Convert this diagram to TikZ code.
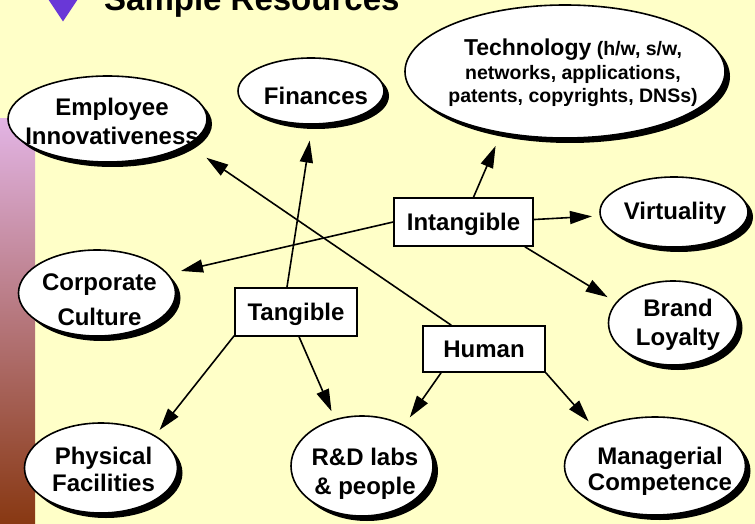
\documentclass[tikz,border=0pt]{standalone}
\usepackage{fontspec}
\setmainfont{Liberation Sans}
\usetikzlibrary{shapes.geometric,shadows,arrows.meta}
\definecolor{paper}{RGB}{255,255,200}
\definecolor{stripTop}{RGB}{226,180,228}
\definecolor{stripBot}{RGB}{136,56,18}
\definecolor{bulletPurple}{RGB}{105,55,215}

\begin{document}
\begin{tikzpicture}[x=1pt,y=-1pt,
  bubble/.style={ellipse, draw=black, line width=1.6pt, fill=white, inner sep=0pt,
    drop shadow={shadow xshift=5pt, shadow yshift=-5pt, fill=black, opacity=1}},
  lbl/.style={align=center, inner sep=0pt, font=\bfseries\fontsize{24}{29}\selectfont},
  box/.style={rectangle, draw=black, line width=1.6pt, fill=white, inner sep=0pt,
    font=\bfseries\fontsize{24}{29}\selectfont, text height=17pt, text depth=0pt},
  conn/.style={line width=1.6pt, -{Triangle[length=22pt,width=13pt]}}]

% page and clipping
\useasboundingbox (0,0) rectangle (755,524);
\clip (0,0) rectangle (755,524);
\fill[paper] (0,0) rectangle (755,524);

% shaded strip on the left edge
\shade[top color=stripTop, bottom color=stripBot] (0,119) rectangle (35,524);

% heading with bullet
\fill[bulletPurple] (46,-4) -- (80,-4) -- (63,21.5) -- cycle;
\node[font=\bfseries\fontsize{33}{40}\selectfont, anchor=base west, inner sep=0pt] (title) at (104,11) {Sample Resources};

% resource bubbles
\node[bubble, minimum width=199pt, minimum height=86pt] (emp) at (107.5,119) {};
\node[lbl] (empT) at (112,121.5) {Employee\\Innovativeness};

\node[bubble, minimum width=146pt, minimum height=66pt] (fin) at (311,91) {};
\node[lbl] (finT) at (316,95.5) {Finances};

\node[bubble, minimum width=320pt, minimum height=133pt] (tech) at (565,71.5) {};
\node[lbl, font=\bfseries\fontsize{19.5}{22.5}\selectfont] (techT) at (573,72.5)
  {{\fontsize{23}{27}\selectfont Technology} (h/w, s/w,\\[1.5pt] networks, applications,\\ patents, copyrights, DNSs)};

\node[bubble, minimum width=148pt, minimum height=70pt] (vir) at (674,212) {};
\node[lbl] (virT) at (675,213) {Virtuality};

\node[bubble, minimum width=129pt, minimum height=84pt] (brand) at (673,323) {};
\node[lbl] (brandT) at (678,324.5) {Brand\\Loyalty};

\node[bubble, minimum width=157pt, minimum height=86pt] (corp) at (97,293) {};
\node[lbl, font=\bfseries\fontsize{24}{35}\selectfont] (corpT) at (99.5,300) {Corporate\\Culture};

\node[bubble, minimum width=153pt, minimum height=90pt] (phys) at (101,468) {};
\node[lbl, font=\bfseries\fontsize{24}{27}\selectfont] (physT) at (103.5,469.5) {Physical\\Facilities};

\node[bubble, minimum width=142pt, minimum height=100pt] (rnd) at (362,466) {};
\node[lbl] (rndT) at (365,474) {R\&D labs\\\& people};

\node[bubble, minimum width=181pt, minimum height=98pt] (mgr) at (655,466) {};
\node[lbl, font=\bfseries\fontsize{24}{26}\selectfont] (mgrT) at (660,471.5) {Managerial\\Competence};

% category boxes
\node[box, minimum width=139pt, minimum height=48pt] (intang) at (463.5,222) {Intangible};
\node[box, minimum width=122pt, minimum height=48pt] (tang) at (296,312) {Tangible};
\node[box, minimum width=122pt, minimum height=46pt] (human) at (484,349) {Human};

% connectors
\draw[conn, shorten >=16pt]   (tang.110.6)   -- (fin.272.6);
\draw[conn, shorten >=22.3pt] (human.144.3)  -- (emp.342.4);
\draw[conn, shorten >=13.8pt] (intang.68.4)  -- (tech.224.4);
\draw[conn, shorten >=13pt]   (intang.180)   -- (corp.15.3);
\draw[conn, shorten >=7.7pt]  (intang.2.5)   -- (vir.183.7);
\draw[conn, shorten >=9.7pt]  (intang.338)   -- (brand.160.6);
\draw[conn, shorten >=7pt]    (tang.201.6)   -- (phys.31.8);
\draw[conn, shorten >=8.4pt]  (tang.277.1)   -- (rnd.120);
\draw[conn, shorten >=9.3pt]  (human.209.3)  -- (rnd.44.3);
\draw[conn, shorten >=9.5pt]  (human.339.3)  -- (mgr.148.4);
\end{tikzpicture}
\end{document}
